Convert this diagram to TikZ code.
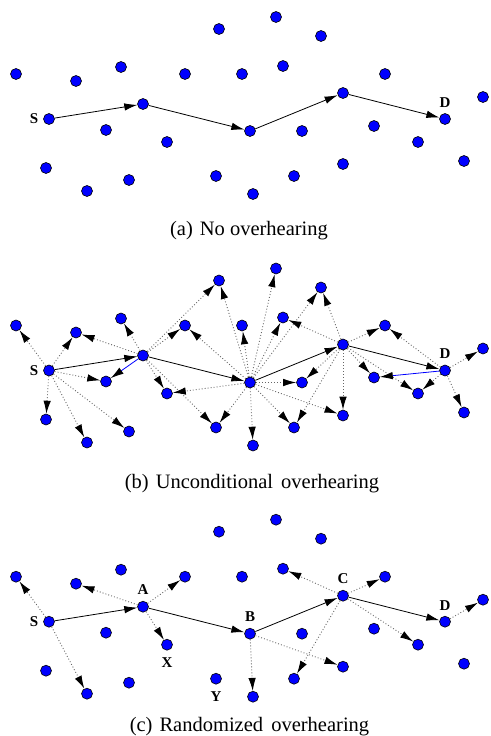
\documentclass[tikz,border=0pt]{standalone}
\usepackage{fontspec}
\setmainfont{Liberation Serif}
\usetikzlibrary{arrows.meta}
\tikzset{
 dot/.style={circle,draw=black,fill=blue,line width=0.6pt,minimum size=11pt,inner sep=0pt},
 route/.style={-{Latex[length=13pt,width=7.5pt]},line width=0.8pt,draw=black},
 hear/.style={-{Latex[length=13pt,width=7.5pt,color=black]},line width=0.9pt,draw=black!60,dash pattern=on 0.9pt off 2.1pt},
 bluehear/.style={-{Latex[length=13pt,width=7.5pt,color=black]},line width=0.8pt,draw=blue},
 lab/.style={font=\fontsize{15}{15}\selectfont\bfseries,inner sep=0pt},
 captext/.style={font=\fontsize{20.5}{20.5}\selectfont,inner sep=0pt,anchor=base},
}
\newcommand\placedots[2]{%
 \foreach \nm/\px/\py in {n1/16/74, n2/76/81, n3/121/67, n4/185/74, n5/219/29, n6/242/74,
   S/49/119, A/143/104, n7/106/130, n8/167/142, n9/46/168, n10/87/191, n11/129/180, n12/216/176,
   n13/276/17, n14/321/36, n15/283/66, n16/385/74, C/343/93, n17/483/97, D/445/119, B/250/131,
   n18/302/131, n19/374/126, n20/418/142, n21/464/161, n22/343/164, n23/294/176, n24/253/194}
 {\node[dot] (#1\nm) at (\px,{\py+#2}) {};}}
\newcommand\hearall[3]{\foreach \t in {#3}{\draw[hear] (#1#2) -- (#1\t);}}
\newcommand\routeall[1]{\draw[route] (#1S) -- (#1A); \draw[route] (#1A) -- (#1B);
 \draw[route] (#1B) -- (#1C); \draw[route] (#1C) -- (#1D);}
\begin{document}
\begin{tikzpicture}[x=1pt,y=-1pt]
\useasboundingbox (0,0) rectangle (490,736);
% panel (a)
\placedots{a}{0}
\routeall{a}
\node[lab] (aSl) at ([xshift=-15pt]aS.center) {S};
\node[lab] (aDl) at ([yshift=16.5pt]aD.center) {D};
\node[captext] (capa) at (249,235) {(a)\hspace{7pt}No overhearing};
% panel (b)
\placedots{b}{251.5}
\hearall{b}{S}{n1,n2,n7,n9,n10,n11}
\hearall{b}{A}{n2,n3,n4,n5,n8,n12}
\draw[bluehear] (bA) -- (bn7);
\hearall{b}{B}{n8,n12,n5,n4,n6,n13,n14,n15,n18,n22,n23,n24}
\hearall{b}{C}{n14,n15,n16,n18,n19,n20,n22,n23}
\hearall{b}{D}{n16,n17,n20,n21}
\draw[bluehear] (bD) -- (bn19);
\routeall{b}
\node[lab] (bSl) at ([xshift=-15pt]bS.center) {S};
\node[lab] (bDl) at ([yshift=16.5pt]bD.center) {D};
\node[captext] (capb) at (252,488) {(b)\hspace{7pt}Unconditional\hspace{3pt} overhearing};
% panel (c)
\placedots{c}{502.7}
\hearall{c}{S}{n1,n10}
\hearall{c}{A}{n2,n4,n8}
\hearall{c}{B}{n22,n24}
\hearall{c}{C}{n15,n16,n20,n23}
\hearall{c}{D}{n17}
\routeall{c}
\node[lab] (cSl) at ([xshift=-15pt]cS.center) {S};
\node[lab] (cAl) at ([yshift=17pt]cA.center) {A};
\node[lab] (cBl) at ([yshift=17pt]cB.center) {B};
\node[lab] (cCl) at ([yshift=17pt]cC.center) {C};
\node[lab] (cDl) at ([yshift=16pt]cD.center) {D};
\node[lab] (cXl) at ([yshift=-17.5pt]cn8.center) {X};
\node[lab] (cYl) at ([yshift=-18pt]cn12.center) {Y};
\node[captext] (capc) at (249.5,731.5) {(c)\hspace{7pt}Randomized\hspace{3pt} overhearing};
\end{tikzpicture}
\end{document}
